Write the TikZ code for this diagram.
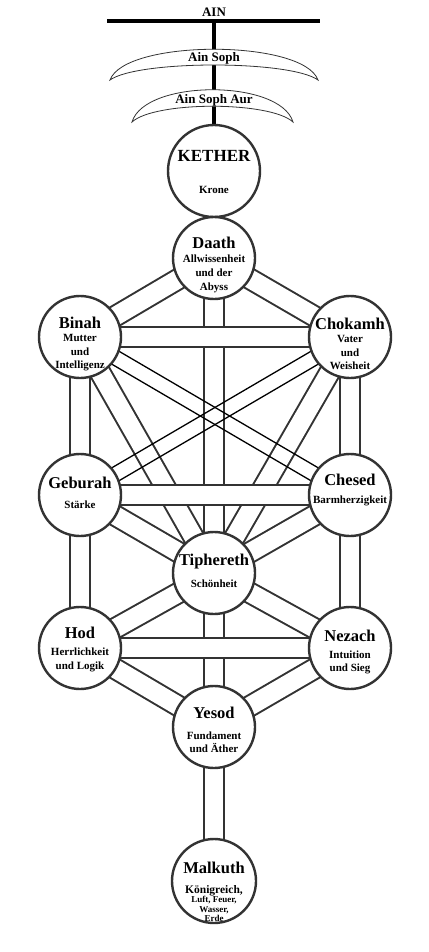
\documentclass[tikz,border=0pt]{standalone}
\usepackage{fontspec}
\setmainfont{Liberation Serif}
\usetikzlibrary{positioning, calc, backgrounds}

\definecolor{ink}{HTML}{333333}
\newcommand{\sname}[2][16.5]{{\fontsize{#1}{13.5}\selectfont #2}}

\begin{document}
\begin{tikzpicture}[
  x = 1pt, y = 1pt,
  node distance = 154pt,
  semithick
  ]

  \tikzstyle{sephira}=[
  circle,
  draw = ink,
  line width = 2.4pt,
  fill = white,
  minimum size = 82pt,
  inner sep = 0pt
  ]
  \tikzstyle{title}=[font = \fontsize{11}{13.5}\selectfont\bfseries, align = center, inner sep = 0pt]
  \tikzstyle{channel}=[draw = ink, line width = 2pt, double = white, double distance = 18.5pt]
  \tikzstyle{thread}=[draw = black, line width = 1.3pt]
  \tikzstyle{veil}=[draw = ink, line width = 0.8pt, fill = white]
  \tikzstyle{veiltext}=[font = \fontsize{13}{13}\selectfont\bfseries, inner sep = 0pt]

  \useasboundingbox (0,0) rectangle (428,-952);

  % the ten (and Daath)
  \node[sephira, minimum size = 92pt, label = {[title, yshift = -1pt]center:{\sname[17]{KETHER}\\[18pt]Krone}}] (kether) at (214,-171) {};
  \node[sephira, label = {[title, yshift = -7pt]center:{\sname{Daath}\\Allwissenheit\\[1pt]und der\\Abyss}}] (daath) [below of = kether, node distance = 87pt] {};
  \node[sephira, label = {[title, yshift = -7pt]center:{\sname{Binah}\\Mutter\\und\\Intelligenz}}] (binah) at (80,-337) {};
  \node[sephira, label = {[title, yshift = -7pt]center:{\sname{Chokamh}\\Vater\\und\\Weisheit}}] (chokmah) [right of = binah, node distance = 270pt] {};
  \node[sephira, label = {[title, yshift = 2pt]center:{\sname{Geburah}\\[7pt]Stärke}}] (geburah) [below of = binah, node distance = 158pt] {};
  \node[sephira, label = {[title, yshift = 5pt]center:{\sname{Chesed}\\[4pt]Barmherzigkeit}}] (chesed) [right of = geburah, node distance = 270pt] {};
  \node[sephira, label = {[title, yshift = 2pt]center:{\sname{Tiphereth}\\[9pt]Schönheit}}] (tiphereth) [below of = daath, node distance = 315pt] {};
  \node[sephira, label = {[title, yshift = -1pt]center:{\sname{Hod}\\[4pt]Herrlichkeit\\und Logik}}] (hod) [below of = geburah, node distance = 153pt] {};
  \node[sephira, label = {[title, yshift = -4pt]center:{\sname{Nezach}\\[3pt]Intuition\\und Sieg}}] (nezach) [right of = hod, node distance = 270pt] {};
  \node[sephira, label = {[title, yshift = -3pt]center:{\sname{Yesod}\\[7pt]Fundament\\und Äther}}] (yesod) [below of = tiphereth] {};
  \node[sephira, minimum size = 84pt, label = {[title, yshift = -11pt, font = \fontsize{9}{9.5}\selectfont\bfseries]center:{\sname[16.5]{Malkuth}\\[10pt]{\fontsize{11.5}{9.5}\selectfont Königreich,}\\Luft, Feuer,\\Wasser,\\Erde}}] (malkuth) [below of = yesod] {};

  % veils above Kether
  \node[veiltext] (ain) at (214,-12) {AIN};
  \coordinate (barleft) at (107,-21);
  \coordinate (barright) at (320,-21);
  \coordinate (ainbar) at (214,-21);
  \draw[line width = 3.5pt] (barleft) -- (barright);

  \path[veil] (110,-80) .. controls (125,-39) and (303,-39) .. (318,-80)
    .. controls (290,-60) and (138,-60) .. (110,-80) -- cycle;
  \node[veiltext] (ainsoph) at (214,-58) {Ain Soph};

  \path[veil] (132,-122) .. controls (145,-79) and (280,-79) .. (293,-122)
    .. controls (270,-101) and (155,-101) .. (132,-122) -- cycle;
  \node[veiltext] (ainsophaur) at (214,-100) {Ain Soph Aur};

  \begin{scope}[on background layer]
    \fill[white] (0,0) rectangle (428,-952);
    \draw[line width = 3.5pt] (ainbar) -- (kether.center);

    % diagonal paths
    \path (daath.center) edge[channel] (binah.center);
    \path (daath.center) edge[channel] (chokmah.center);
    \path (binah.center) edge[channel] (tiphereth.center);
    \path (chokmah.center) edge[channel] (tiphereth.center);
    \path (geburah.center) edge[channel] (tiphereth.center);
    \path (chesed.center) edge[channel] (tiphereth.center);
    \path (tiphereth.center) edge[channel] (hod.center);
    \path (tiphereth.center) edge[channel] (nezach.center);
    \path (hod.center) edge[channel] (yesod.center);
    \path (nezach.center) edge[channel] (yesod.center);

    % vertical paths
    \path (kether.center) edge[channel] (daath.center);
    \path (daath.center) edge[channel] (tiphereth.center);
    \path (tiphereth.center) edge[channel] (yesod.center);
    \path (yesod.center) edge[channel] (malkuth.center);
    \path (binah.center) edge[channel] (geburah.center);
    \path (geburah.center) edge[channel] (hod.center);
    \path (chokmah.center) edge[channel] (chesed.center);
    \path (chesed.center) edge[channel] (nezach.center);

    % horizontal paths
    \path (binah.center) edge[channel] (chokmah.center);
    \path (geburah.center) edge[channel] (chesed.center);
    \path (hod.center) edge[channel] (nezach.center);

    % crossing threads
    \draw[thread] ($(binah.center)!7.4pt!90:(chesed.center)$) -- ($(chesed.center)!7.4pt!-90:(binah.center)$);
    \draw[thread] ($(binah.center)!7.4pt!-90:(chesed.center)$) -- ($(chesed.center)!7.4pt!90:(binah.center)$);
    \draw[thread] ($(chokmah.center)!7.4pt!90:(geburah.center)$) -- ($(geburah.center)!7.4pt!-90:(chokmah.center)$);
    \draw[thread] ($(chokmah.center)!7.4pt!-90:(geburah.center)$) -- ($(geburah.center)!7.4pt!90:(chokmah.center)$);
  \end{scope}

\end{tikzpicture}
\end{document}
